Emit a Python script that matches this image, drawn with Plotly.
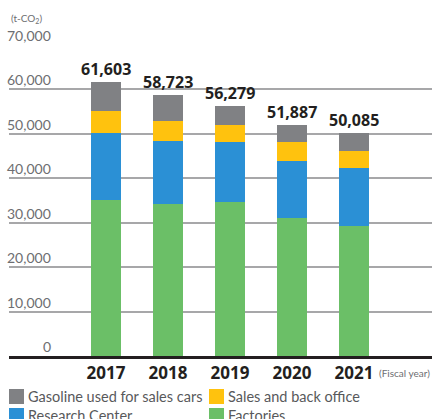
import plotly.graph_objects as go

years = ["2017", "2018", "2019", "2020", "2021"]
factories = [35150, 34300, 34750, 31100, 29300]
research = [15050, 14100, 13450, 12800, 13100]
sales_office = [4950, 4500, 3900, 4300, 3800]
totals = [61603, 58723, 56279, 51887, 50085]
gasoline = [t - f - r - s for t, f, r, s in zip(totals, factories, research, sales_office)]
y_ticks = [0, 10000, 20000, 30000, 40000, 50000, 60000, 70000]

series = [
    ("Factories", factories, "#6BBF67"),
    ("Research Center", research, "#2B90D5"),
    ("Sales and back office", sales_office, "#FFC20E"),
    ("Gasoline used for sales cars", gasoline, "#808184"),
]

W, H = 432, 419
ML, MR, MT, MB = 9, 0, 45, 63
xs = list(range(len(years)))

fig = go.Figure()
for name, vals, col in series:
    fig.add_trace(go.Bar(x=xs, y=vals, name=name, marker=dict(color=col, line=dict(width=0)),
                         width=0.484, showlegend=False))

font_main = "Lato, 'Open Sans', sans-serif"
ann = []
for i, t in enumerate(totals):
    ann.append(dict(x=i, y=t, xref="x", yref="y", text=f"<b>{t:,}</b>", showarrow=False,
                    yanchor="bottom", yshift=0, font=dict(family="'Open Sans', sans-serif", size=16, color="#231f20")))
pw = W - ML - MR
for v in y_ticks:
    ann.append(dict(x=(51 - ML) / pw, y=v, xref="paper", yref="y", text=f"{v:,}", showarrow=False,
                    xanchor="right", yanchor="bottom", yshift=-1, xshift=2,
                    font=dict(family=font_main, size=14, color="#6d6e71")))
ann.append(dict(x=0, y=1, xref="paper", yref="paper", text="(t-CO<sub>2</sub>)", showarrow=False,
                xanchor="left", yanchor="bottom", yshift=18,
                font=dict(family=font_main, size=10, color="#6d6e71")))
ann.append(dict(x=1, y=0, xref="paper", yref="paper", text="(Fiscal year)", showarrow=False,
                xanchor="right", yanchor="top", yshift=-9,
                font=dict(family=font_main, size=10, color="#6d6e71")))

# legend (drawn manually)
legend_items = [
    ("Gasoline used for sales cars", "#808184", 9, 389),
    ("Sales and back office", "#FFC20E", 209, 389),
    ("Research Center", "#2B90D5", 9, 408),
    ("Factories", "#6BBF67", 209, 408),
]
shapes = []
ph = H - MT - MB
for name, col, px, py in legend_items:
    x0 = (px - ML) / pw
    x1 = (px + 15 - ML) / pw
    y0 = (H - MB - py) / ph
    y1 = (H - MB - (py + 15)) / ph
    shapes.append(dict(type="rect", xref="paper", yref="paper", x0=x0, x1=x1, y0=y1, y1=y0,
                       fillcolor=col, line=dict(width=0)))
    ann.append(dict(x=(px + 17 - ML) / pw, y=(H - MB - (py + 7.5)) / ph, xref="paper", yref="paper",
                    text=name, showarrow=False, xanchor="left", yanchor="middle",
                    font=dict(family=font_main, size=14.5, color="#58595b")))

fig.update_layout(
    barmode="stack",
    width=W, height=H,
    margin=dict(l=ML, r=MR, t=MT, b=MB),
    plot_bgcolor="white", paper_bgcolor="white",
    xaxis=dict(range=[-1.565, 5.258], tickmode="array", tickvals=xs, ticktext=[f"<b>{y}</b>" for y in years],
               tickfont=dict(family="'Open Sans', sans-serif", size=17, color="#231f20"),
               showline=True, linecolor="#231f20", linewidth=2.5, showgrid=False, ticks="", fixedrange=True),
    yaxis=dict(range=[0, 70000], tickvals=y_ticks, showticklabels=False, showgrid=True,
               gridcolor="#a7a7a9", gridwidth=1.5, zeroline=False, fixedrange=True),
    annotations=ann,
    shapes=shapes,
    bargap=0,
)

fig.write_html("out.html")
